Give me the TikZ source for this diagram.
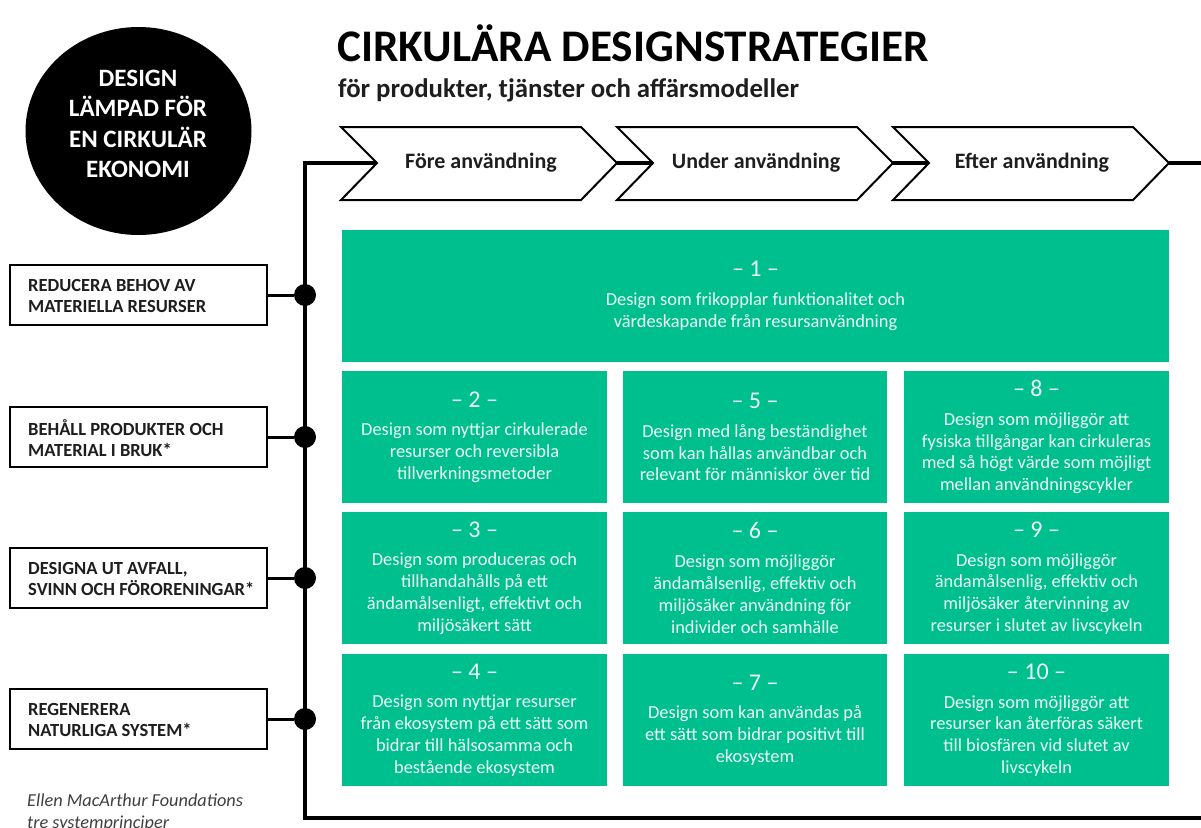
\documentclass[tikz,border=0pt]{standalone}
\usepackage{fontspec}
\setmainfont{Carlito}
\usetikzlibrary{shapes.geometric}
\definecolor{grn}{RGB}{0,191,142}
\definecolor{gtxt}{RGB}{236,252,245}
\definecolor{dark}{RGB}{30,30,30}
\definecolor{note}{RGB}{64,64,64}
\tikzset{
  gbox/.style={fill=grn, text=gtxt, align=center, inner sep=0pt,
    font=\fontsize{18.4}{21.8}\selectfont},
  pbox/.style={draw=black, line width=2pt, fill=white, inner sep=0pt,
    minimum width=257pt, minimum height=60pt},
  ptext/.style={anchor=west, align=left, inner sep=0pt, text=dark,
    font=\bfseries\fontsize{18.5}{21}\selectfont},
  dotnode/.style={circle, fill=black, minimum size=22pt, inner sep=0pt},
  mainline/.style={line width=4pt},
  linkline/.style={line width=3pt},
  chev/.style={draw=black, line width=2pt, fill=white, line join=miter},
  chevlabel/.style={font=\bfseries\fontsize{22}{24}\selectfont, text=dark},
}
\newcommand{\gnum}[1]{{\fontsize{24}{24}\selectfont – #1 –}\\[7pt]}
\begin{document}
\begin{tikzpicture}[x=1pt,y=-1pt]
\clip (0,0) rectangle (1201,827);
\fill[white] (0,0) rectangle (1201,827);

% circle
\node[ellipse, fill=black, minimum width=226pt, minimum height=208pt, inner sep=0pt] (circ) at (138.5,131) {};
\node[text=white, align=center, font=\bfseries\fontsize{25}{30.5}\selectfont] (circtext) at (138,124)
  {DESIGN\\LÄMPAD FÖR\\EN CIRKULÄR\\EKONOMI};

% title
\node[anchor=base west, inner sep=0pt, font=\bfseries\fontsize{45.2}{48}\selectfont] (title) at (337,61)
  {CIRKULÄRA DESIGNSTRATEGIER};
\node[anchor=base west, inner sep=0pt, font=\bfseries\fontsize{26.8}{30}\selectfont, text=dark] (subtitle) at (338,97)
  {för produkter, tjänster och affärsmodeller};

% chevrons
\draw[chev] (341,127) -- (581,127) -- (617,163) -- (581,200) -- (341,200) -- (377,163) -- cycle;
\draw[chev] (617,127) -- (857,127) -- (893,163) -- (857,200) -- (617,200) -- (653,163) -- cycle;
\draw[chev] (893,127) -- (1133,127) -- (1169,163) -- (1133,200) -- (893,200) -- (929,163) -- cycle;
\coordinate (c1n) at (377,163); \coordinate (c1t) at (617,163);
\coordinate (c2n) at (653,163); \coordinate (c2t) at (893,163);
\coordinate (c3n) at (929,163); \coordinate (c3t) at (1169,163);
\node[chevlabel] (lab1) at (481,163) {Före användning};
\node[chevlabel] (lab2) at (756,163) {Under användning};
\node[chevlabel] (lab3) at (1032,163) {Efter användning};

% main line
\coordinate (corner) at (305,163);
\coordinate (bend) at (305,818);
\coordinate (endb) at (1201,818);
\coordinate (endt) at (1201,163);
\draw[mainline] (c1n) -- (corner) -- (bend) -- (endb);
\draw[mainline] (c1t) -- (c2n);
\draw[mainline] (c2t) -- (c3n);
\draw[mainline] (c3t) -- (endt);

% principle boxes
\node[pbox] (p1) at (138.5,295) {};
\node[pbox] (p2) at (138.5,437) {};
\node[pbox] (p3) at (138.5,578) {};
\node[pbox] (p4) at (138.5,719) {};
\node[ptext] (p1t) at (28,296) {REDUCERA BEHOV AV\\MATERIELLA RESURSER};
\node[ptext] (p2t) at (28,438) {BEHÅLL PRODUKTER OCH\\MATERIAL I BRUK*};
\node[ptext] (p3t) at (28,579) {DESIGNA UT AVFALL,\\SVINN OCH FÖRORENINGAR*};
\node[ptext] (p4t) at (28,720) {REGENERERA\\NATURLIGA SYSTEM*};
\node[dotnode] (d1) at (305,295) {};
\node[dotnode] (d2) at (305,437) {};
\node[dotnode] (d3) at (305,578) {};
\node[dotnode] (d4) at (305,719) {};
\draw[linkline] (p1.east) -- (d1);
\draw[linkline] (p2.east) -- (d2);
\draw[linkline] (p3.east) -- (d3);
\draw[linkline] (p4.east) -- (d4);

% green boxes
\node[gbox, minimum width=827pt, minimum height=132pt] (g1) at (755.5,296)
  {\gnum{1}Design som frikopplar funktionalitet och\\värdeskapande från resursanvändning};
\node[gbox, minimum width=265pt, minimum height=132pt] (g2) at (474.5,437)
  {\gnum{2}Design som nyttjar cirkulerade\\resurser och reversibla\\tillverkningsmetoder};
\node[gbox, minimum width=265pt, minimum height=132pt] (g3) at (474.5,578)
  {\gnum{3}Design som produceras och\\tillhandahålls på ett\\ändamålsenligt, effektivt och\\miljösäkert sätt};
\node[gbox, minimum width=265pt, minimum height=132pt] (g4) at (474.5,720)
  {\gnum{4}Design som nyttjar resurser\\från ekosystem på ett sätt som\\bidrar till hälsosamma och\\bestående ekosystem};
\node[gbox, minimum width=264pt, minimum height=132pt] (g5) at (755,437)
  {\gnum{5}Design med lång beständighet\\som kan hållas användbar och\\relevant för människor över tid};
\node[gbox, minimum width=264pt, minimum height=132pt] (g6) at (755,578)
  {\gnum{6}Design som möjliggör\\ändamålsenlig, effektiv och\\miljösäker användning för\\individer och samhälle};
\node[gbox, minimum width=264pt, minimum height=132pt] (g7) at (755,720)
  {\gnum{7}Design som kan användas på\\ett sätt som bidrar positivt till\\ekosystem};
\node[gbox, minimum width=265pt, minimum height=132pt] (g8) at (1036.5,437)
  {\gnum{8}Design som möjliggör att\\fysiska tillgångar kan cirkuleras\\med så högt värde som möjligt\\mellan användningscykler};
\node[gbox, minimum width=265pt, minimum height=132pt] (g9) at (1036.5,578)
  {\gnum{9}Design som möjliggör\\ändamålsenlig, effektiv och\\miljösäker återvinning av\\resurser i slutet av livscykeln};
\node[gbox, minimum width=265pt, minimum height=132pt] (g10) at (1036.5,720)
  {\gnum{10}Design som möjliggör att\\resurser kan återföras säkert\\till biosfären vid slutet av\\livscykeln};

% note
\node[anchor=base west, inner sep=0pt, align=left, text=note,
  font=\itshape\fontsize{18.3}{22}\selectfont] (src) at (27,828)
  {Ellen MacArthur Foundations\\tre systemprinciper};
\end{tikzpicture}
\end{document}
